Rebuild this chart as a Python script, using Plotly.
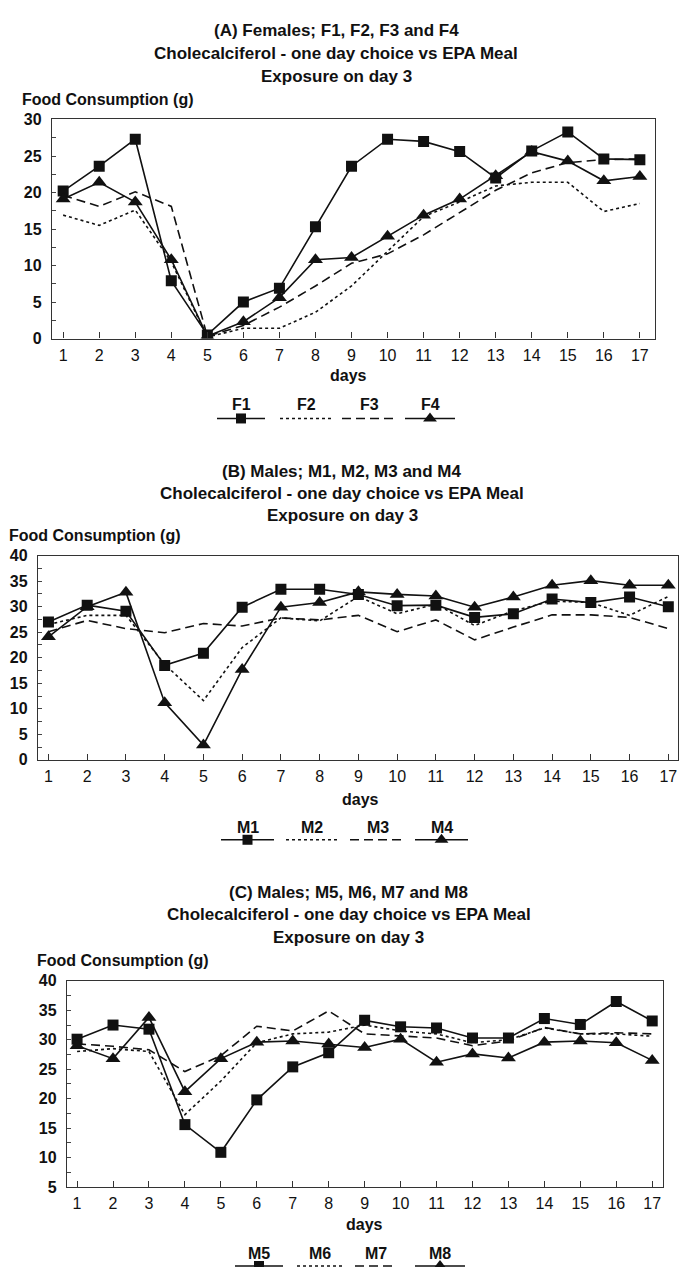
import plotly.graph_objects as go

W, H = 680, 1276
days = list(range(1, 18))

# Panel A: females
f1 = [20.2, 23.6, 27.3, 7.9, 0.5, 5.0, 6.9, 15.3, 23.6, 27.3, 27.0, 25.6, 22.0, 25.7, 28.3, 24.6, 24.5]
f2 = [16.9, 15.5, 17.6, 10.5, 0.2, 1.4, 1.4, 3.6, 7.2, 12.0, 16.7, 18.7, 20.9, 21.4, 21.4, 17.4, 18.5]
f3 = [19.6, 18.1, 20.1, 18.1, 0.3, 1.8, 4.3, 7.2, 10.3, 11.6, 14.2, 17.2, 20.3, 22.7, 24.1, 24.5, 24.6]
f4 = [19.1, 21.4, 18.7, 10.8, 0.3, 2.3, 5.6, 10.8, 11.1, 14.0, 16.9, 19.1, 22.3, 25.6, 24.3, 21.6, 22.2]

# Panel B: males M1-M4
m1 = [27.0, 30.3, 29.1, 18.5, 20.9, 29.9, 33.4, 33.4, 32.4, 30.2, 30.3, 27.9, 28.6, 31.5, 30.8, 31.9, 30.0]
m2 = [26.5, 28.3, 28.3, 18.7, 11.6, 22.0, 27.8, 27.2, 32.0, 28.6, 30.5, 26.3, 29.2, 31.1, 30.8, 28.3, 32.0]
m3 = [25.1, 27.3, 25.7, 24.9, 26.7, 26.2, 27.8, 27.4, 28.3, 25.1, 27.4, 23.5, 26.0, 28.4, 28.4, 27.9, 25.7]
m4 = [24.1, 30.0, 32.8, 11.2, 2.9, 17.7, 29.9, 30.8, 32.9, 32.4, 32.1, 29.9, 31.9, 34.2, 35.1, 34.2, 34.2]

# Panel C: males M5-M8
m5 = [30.1, 32.5, 31.8, 15.6, 10.9, 19.8, 25.4, 27.8, 33.3, 32.2, 32.0, 30.3, 30.3, 33.6, 32.6, 36.5, 33.2]
m6 = [28.0, 28.5, 28.0, 17.3, 23.0, 29.5, 31.0, 31.3, 32.5, 31.5, 31.0, 29.5, 30.0, 32.0, 31.0, 31.0, 30.6]
m7 = [29.3, 28.9, 28.3, 24.6, 27.3, 32.3, 31.5, 34.9, 31.0, 30.7, 30.3, 29.0, 29.8, 32.1, 31.0, 31.2, 31.0]
m8 = [29.0, 26.8, 33.8, 21.2, 26.8, 29.6, 29.8, 29.3, 28.7, 30.1, 26.2, 27.6, 26.9, 29.6, 29.8, 29.5, 26.5]

FONT = "Liberation Sans, Arial, sans-serif"
INK = "#111111"
TITLE_SIZE = 17
LABEL_SIZE = 16
TICK_SIZE = 16


def px(x):
    return x / W


def py(y):
    return 1 - y / H


# series style: (name, values, dash, marker symbol)
panels = [
    {
        "series": [("F2", f2, "dot", None), ("F3", f3, "dash", None),
                   ("F1", f1, "solid", "square"), ("F4", f4, "solid", "triangle-up")],
        "order": ["F1", "F2", "F3", "F4"],
        "title": ["(A) Females; F1, F2, F3 and F4",
                  "Cholecalciferol - one day choice vs EPA Meal",
                  "Exposure on day 3"],
        "title_x": 336, "title_y": [23, 46, 69], "fc": (20, 93),
        "xdom": (52, 655), "ydom": (113, 335),
        "xrange": [0.69, 17.42], "yrange": [0, 30], "yticks": [0, 5, 10, 15, 20, 25, 30],
        "days_y": 372, "days_x": 349,
        "leg_label_y": 402, "leg_line_y": 416,
        "leg": [(217, 265), (280, 332), (342, 398), (405, 455)],
    },
    {
        "series": [("M2", m2, "dot", None), ("M3", m3, "dash", None),
                   ("M1", m1, "solid", "square"), ("M4", m4, "solid", "triangle-up")],
        "order": ["M1", "M2", "M3", "M4"],
        "title": ["(B) Males; M1, M2, M3 and M4",
                  "Cholecalciferol - one day choice vs EPA Meal",
                  "Exposure on day 3"],
        "title_x": 342, "title_y": [470, 492, 514], "fc": (7, 535),
        "xdom": (38, 678), "ydom": (555, 762),
        "xrange": [0.73, 17.25], "yrange": [0, 40], "yticks": [0, 5, 10, 15, 20, 25, 30, 35, 40],
        "days_y": 802, "days_x": 360,
        "leg_label_y": 831, "leg_line_y": 843,
        "leg": [(221, 274), (286, 338), (350, 405), (415, 468)],
    },
    {
        "series": [("M6", m6, "dot", None), ("M7", m7, "dash", None),
                   ("M5", m5, "solid", "square"), ("M8", m8, "solid", "triangle-up")],
        "order": ["M5", "M6", "M7", "M8"],
        "title": ["(C) Males; M5, M6, M7 and M8",
                  "Cholecalciferol - one day choice vs EPA Meal",
                  "Exposure on day 3"],
        "title_x": 349, "title_y": [896, 919, 942], "fc": (35, 965),
        "xdom": (67, 663), "ydom": (986, 1195),
        "xrange": [0.72, 17.3], "yrange": [5, 40], "yticks": [5, 10, 15, 20, 25, 30, 35, 40],
        "days_y": 1233, "days_x": 364,
        "leg_label_y": 1262, "leg_line_y": 1275,
        "leg": [(235, 283), (297, 342), (355, 397), (415, 465)],
    },
]

DASH = {"solid": "solid", "dot": "3px,3px", "dash": "9px,5px"}
SYMBOL_SIZE = {"square": 11, "triangle-up": 13}

fig = go.Figure()
annotations = []
layout_axes = {}

for i, p in enumerate(panels, start=1):
    xa = "x" if i == 1 else f"x{i}"
    ya = "y" if i == 1 else f"y{i}"
    for name, vals, dash, sym in p["series"]:
        mode = "lines+markers" if sym else "lines"
        fig.add_trace(go.Scatter(
            x=days, y=vals, mode=mode, name=name, showlegend=False,
            xaxis=xa, yaxis=ya,
            line=dict(color=INK, width=1.6, dash=DASH[dash]),
            marker=dict(symbol=sym or "circle", size=SYMBOL_SIZE.get(sym, 1), color=INK,
                        line=dict(width=0)),
        ))

    xkey = "xaxis" if i == 1 else f"xaxis{i}"
    ykey = "yaxis" if i == 1 else f"yaxis{i}"
    layout_axes[xkey] = dict(
        domain=[px(p["xdom"][0]), px(p["xdom"][1])], range=p["xrange"],
        anchor=ya, tickmode="array", tickvals=days, ticktext=[str(d) for d in days],
        ticks="inside", ticklen=6, tickcolor="#333", tickwidth=1,
        showline=True, linecolor="#333", linewidth=1.4, mirror=True,
        showgrid=False, zeroline=False, ticklabelstandoff=2,
        tickfont=dict(family=FONT, size=TICK_SIZE, color=INK),
    )
    layout_axes[ykey] = dict(
        domain=[py(p["ydom"][1]), py(p["ydom"][0])], range=p["yrange"],
        anchor=xa, tickmode="array", tickvals=p["yticks"],
        ticktext=[str(v) for v in p["yticks"]],
        ticks="inside", ticklen=4, tickcolor="#444", tickwidth=1,
        minor=dict(ticks="inside", ticklen=4, dtick=2.5, tickcolor="#444"),
        showline=True, linecolor="#333", linewidth=1.4, mirror=True,
        showgrid=False, zeroline=False, ticklabelstandoff=6,
        tickfont=dict(family=FONT, size=TICK_SIZE, color=INK, weight="bold"),
    )

    for txt, ty in zip(p["title"], p["title_y"]):
        annotations.append(dict(x=px(p["title_x"]), y=py(ty), xref="paper", yref="paper",
                                text=txt, showarrow=False, xanchor="center", yanchor="middle",
                                font=dict(family=FONT, size=TITLE_SIZE, color=INK,
                                          weight="bold")))
    annotations.append(dict(x=px(p["fc"][0]), y=py(p["fc"][1]), xref="paper", yref="paper",
                            text="Food Consumption (g)", showarrow=False,
                            xanchor="left", yanchor="middle",
                            font=dict(family=FONT, size=LABEL_SIZE, color=INK, weight="bold")))
    annotations.append(dict(x=px(p["days_x"]), y=py(p["days_y"]), xref="paper", yref="paper",
                            text="days", showarrow=False, xanchor="center", yanchor="middle",
                            font=dict(family=FONT, size=LABEL_SIZE, color=INK, weight="bold")))

    # legend keys drawn on a full-page overlay axis
    styles = {n: (d, s) for n, _, d, s in p["series"]}
    for name, (x0, x1) in zip(p["order"], p["leg"]):
        dash, sym = styles[name]
        ly = p["leg_line_y"]
        fig.add_trace(go.Scatter(
            x=[x0, x1], y=[ly, ly], mode="lines", showlegend=False, hoverinfo="skip",
            xaxis="x4", yaxis="y4",
            line=dict(color=INK, width=1.6, dash=DASH[dash]),
        ))
        xm = (x0 + x1) / 2
        if sym:
            fig.add_trace(go.Scatter(
                x=[xm], y=[ly], mode="markers", showlegend=False, hoverinfo="skip",
                xaxis="x4", yaxis="y4",
                marker=dict(symbol=sym, size=SYMBOL_SIZE[sym] - 1, color=INK),
            ))
        annotations.append(dict(x=px(xm), y=py(p["leg_label_y"]), xref="paper", yref="paper",
                                text=name, showarrow=False, xanchor="center", yanchor="middle",
                                font=dict(family=FONT, size=LABEL_SIZE, color=INK,
                                          weight="bold")))

layout_axes["xaxis4"] = dict(domain=[0, 1], range=[0, W], visible=False, anchor="y4",
                             fixedrange=True)
layout_axes["yaxis4"] = dict(domain=[0, 1], range=[H, 0], visible=False, anchor="x4",
                             fixedrange=True)

fig.update_layout(
    width=W, height=H, margin=dict(l=0, r=0, t=0, b=0),
    paper_bgcolor="white", plot_bgcolor="rgba(0,0,0,0)",
    showlegend=False, annotations=annotations,
    font=dict(family=FONT, color=INK),
    **layout_axes,
)

fig.write_html("out.html")
